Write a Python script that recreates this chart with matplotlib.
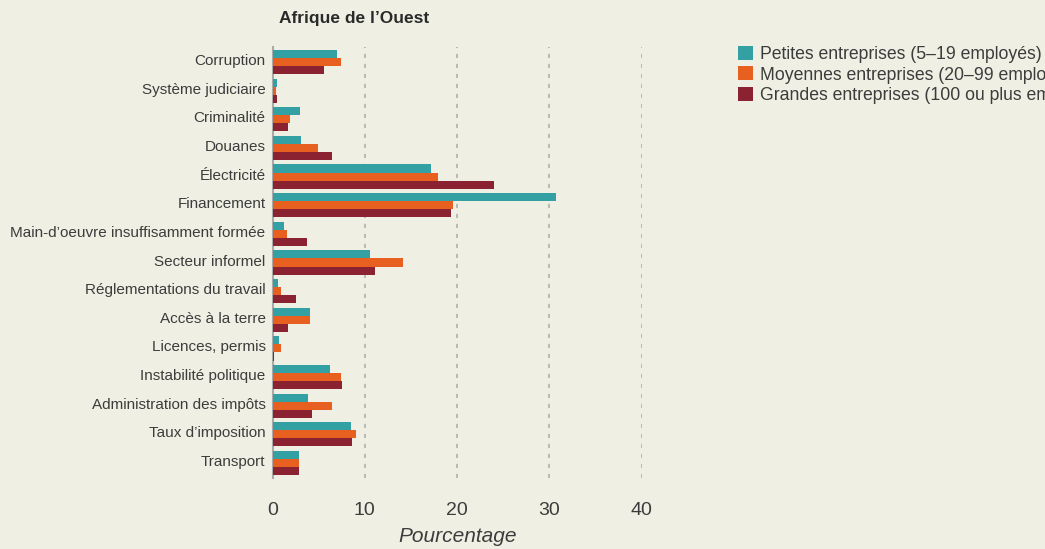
import numpy as np
import matplotlib.pyplot as plt
import matplotlib.transforms as mtransforms
from matplotlib.patches import Patch

plt.rcParams['font.family'] = ['Liberation Sans', 'DejaVu Sans']

# Données
categories = ['Corruption', 'Système judiciaire', 'Criminalité', 'Douanes', 'Électricité',
              'Financement', 'Main-d\u2019oeuvre insuffisamment formée', 'Secteur informel',
              'Réglementations du travail', 'Accès à la terre', 'Licences, permis',
              'Instabilité politique', 'Administration des impôts', 'Taux d\u2019imposition',
              'Transport']
petites = [7.0, 0.5, 3.0, 3.1, 17.2, 30.7, 1.2, 10.6, 0.6, 4.1, 0.7, 6.2, 3.8, 8.5, 2.9]
moyennes = [7.4, 0.4, 1.9, 4.9, 17.9, 19.6, 1.6, 14.1, 0.9, 4.1, 0.9, 7.4, 6.5, 9.1, 2.9]
grandes = [5.6, 0.5, 1.7, 6.4, 24.0, 19.4, 3.7, 11.1, 2.5, 1.7, 0.15, 7.5, 4.3, 8.6, 2.9]
series_labels = ['Petites entreprises (5\u201319 employés)',
                 'Moyennes entreprises (20\u201399 employés)',
                 'Grandes entreprises (100 ou plus employés)']
xticks = [0, 10, 20, 30, 40]

bg = '#eff0e3'
colors = ['#33a0a4', '#e8601f', '#8a2232']
txt = '#3c3c3c'

fig = plt.figure(figsize=(10.45, 5.49), dpi=100, facecolor=bg)
ax = fig.add_axes([272.5 / 1045, 1 - 478 / 549, (642 - 272.5) / 1045 * 1.0, 431 / 549])
ax.set_facecolor(bg)

y = np.arange(len(categories))
h = 0.28
for i, vals in enumerate([petites, moyennes, grandes]):
    ax.barh(y + (i - 1) * h, vals, height=h, color=colors[i], zorder=3)

ax.set_ylim(len(categories) - 0.48, -0.52)
ax.set_xlim(0, 40.05)
ax.set_yticks(y)
ax.set_yticklabels(categories, fontsize=11, color=txt)
ax.set_xticks(xticks)
ax.set_xticklabels([str(v) for v in xticks], fontsize=14, color=txt)
ax.tick_params(axis='both', length=0)
ax.tick_params(axis='y', pad=5)
ax.tick_params(axis='x', pad=17)

# étiquettes un peu au-dessus du centre du groupe
shift = mtransforms.ScaledTranslation(0, 2.5 / 100, fig.dpi_scale_trans)
for lbl in ax.get_yticklabels():
    lbl.set_transform(lbl.get_transform() + shift)

for s in ['top', 'right', 'bottom']:
    ax.spines[s].set_visible(False)
ax.spines['left'].set_color('#aaaaaa')
ax.spines['left'].set_linewidth(1.5)

for v in xticks[1:]:
    ax.axvline(v, color='#b0b0b0', linestyle=(0, (2.5, 3.5)), linewidth=1.2, zorder=1)

ax.set_xlabel('Pourcentage', fontsize=15, style='italic', color=txt, labelpad=6)

fig.text(279 / 1045, 1 - 18 / 549, 'Afrique de l\u2019Ouest', fontsize=12.5,
         fontweight='bold', color='#2a2a2a', va='center', ha='left')

handles = [Patch(facecolor=c, edgecolor='none') for c in colors]
fig.legend(handles, series_labels, loc='upper left',
           bbox_to_anchor=(731 / 1045, 1 - 39 / 549), frameon=False,
           fontsize=12.7, handlelength=0.85, handleheight=0.85, handletextpad=0.4,
           labelspacing=0.18, labelcolor=txt, borderaxespad=0)

fig.savefig('out.png', dpi=100, facecolor=bg)
